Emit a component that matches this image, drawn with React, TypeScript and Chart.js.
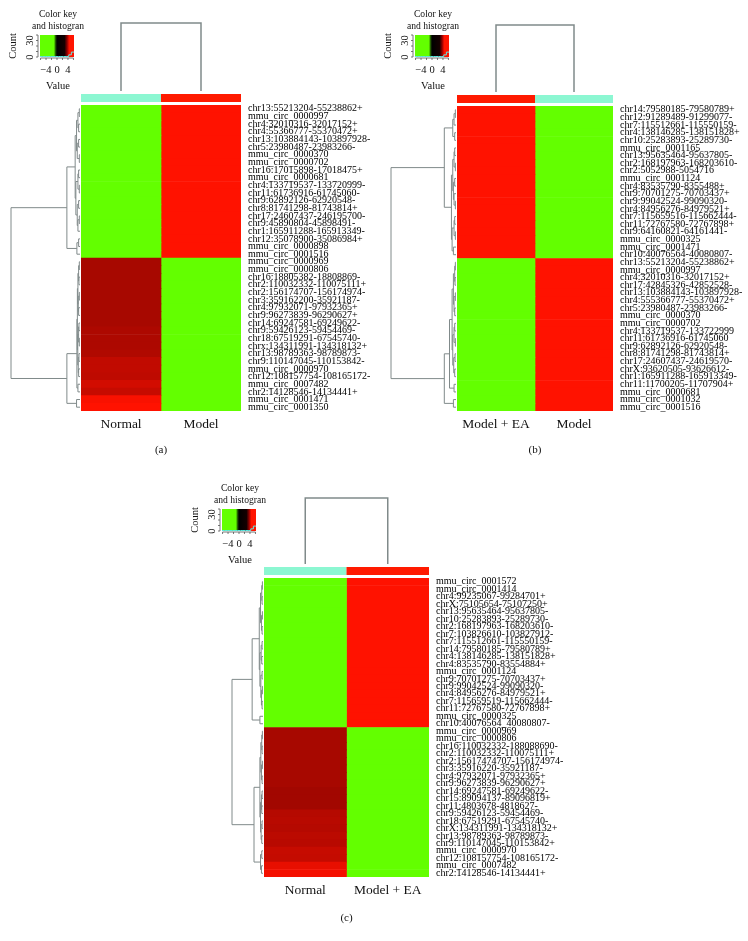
import React, { useEffect, useRef } from "react";
import { Chart, registerables } from "chart.js";
Chart.register(...registerables);

const FONT = "'Liberation Serif', 'Times New Roman', serif";
const CYAN = "#8cf7d2";
const RED = "#ff1a00";
const LINE = "rgb(128,138,138)";

// ---------- panel (a) ----------
const colNamesA = ["Normal", "Model"];
const colGroupA = [CYAN, RED];
const rowLabelsA = [
  "chr13:55213204-55238862+", "mmu_circ_0000997", "chr4:32010316-32017152+", "chr4:55366777-55370472+",
  "chr13:103884143-103897928-", "chr5:23980487-23983266-", "mmu_circ_0000370", "mmu_circ_0000702",
  "chr16:17015898-17018475+", "mmu_circ_0000681", "chr4:133719537-133720999-", "chr11:61736916-61745060-",
  "chr9:62892126-62920548-", "chr8:81741298-81743814+", "chr17:24607437-246195700-", "chr9:45890804-45898491-",
  "chr1:165911288-165913349-", "chr12:35078900-35086984+", "mmu_circ_0000898", "mmu_circ_0001516",
  "mmu_circ_0000969", "mmu_circ_0000806", "chr16:18805382-18808869-", "chr2:110032332-110075111+",
  "chr2:156174707-156174974-", "chr3:359162200-35921187-", "chr4:97932071-97932365+", "chr9:96273839-96290627+",
  "chr14:69247581-69249622-", "chr9:59426123-59454469-", "chr18:67519291-67545740-", "chrx:134311991-134318132+",
  "chr13:98789363-98789873-", "chr9:110147045-110153842-", "mmu_circ_0000970", "chr12:108157754-108165172-",
  "mmu_circ_0007482", "chr2:14128546-14134441+", "mmu_circ_0001471", "mmu_circ_0001350",
];
const normalA = [
  -5, -5, -5, -5, -5, -5, -5, -5, -5, -5, -5, -5, -5, -5, -5, -5, -5, -5, -5, -5,
  3.95, 3.95, 3.95, 3.95, 3.95, 3.95, 3.95, 3.95, 3.95, 4.05, 4.05, 4.05, 4.1, 4.4, 4.4, 4.35, 4.7, 4.5, 5.4, 5.5,
];
const modelA = [
  5.5, 5.5, 5.5, 5.5, 5.5, 5.5, 5.5, 5.5, 5.5, 5.5, 5.5, 5.5, 5.5, 5.5, 5.5, 5.5, 5.5, 5.5, 5.5, 5.5,
  -5, -5, -5, -5, -5, -5, -5, -5, -5, -5, -5, -5, -5, -5, -5, -5, -5, -5, -5, -5,
];
const treeA = [1,
  [0.19,
    [0.07,
      [0.05, [0.03, [0.01, 0, 1], [0.02, 2, 3]], [0.04, [0.02, 4, 5], [0.01, 6, 7]]],
      [0.06, [0.03, [0.02, 8, 9], [0.01, 10, 11]], [0.04, [0.02, 12, 13], [0.03, [0.01, 14, 15], 16]]]],
    [0.045, [0.02, 17, 18], 19]],
  [0.19,
    [0.045,
      [0.038,
        [0.03, [0.02, [0.01, 20, 21], [0.015, 22, 23]], [0.025, [0.01, 24, 25], [0.02, 26, 27]]],
        [0.032, [0.02, [0.015, 28, 29], [0.01, 30, 31]], [0.025, [0.015, 32, 33], [0.02, 34, 35]]]],
      [0.03, 36, 37]],
    [0.05, 38, 39]]];

// ---------- panel (b) ----------
const colNamesB = ["Model + EA", "Model"];
const colGroupB = [RED, CYAN];
const rowLabelsB = [
  "chr14:79580185-79580789+", "chr12:91289489-91299077-", "chr7:115512661-115550159-", "chr4:138146285-138151828+",
  "chr10:25283893-25289730-", "mmu_circ_0001165", "chr13:95635464-95637805-", "chr2:168197963-168203610-",
  "chr2:5052988-5054716", "mmu_circ_0001124", "chr4:83535790-8355488+", "chr9:70701275-70703437+",
  "chr9:99042524-99090320-", "chr4:84956276-84979521+", "chr7:115659516-115662444-", "chr11:72767580-72767898+",
  "chr9:64160821-64161441-", "mmu_circ_0000325", "mmu_circ_0001471", "chr10:40076564-40080807-",
  "chr13:55213204-55238862+", "mmu_circ_0000997", "chr4:32010316-32017152+", "chr17:42845326-42852528-",
  "chr13:103884143-103897928-", "chr4:555366777-55370472+", "chr5:23980487-23983266-", "mmu_circ_0000370",
  "mmu_circ_0000702", "chr4:133719537-133722999", "chr11:61736916-61745060", "chr9:62892126-62920548-",
  "chr8:81741298-81743814+", "chr17:24607437-24619570-", "chrX:93620505-93626612-", "chr1:165911288-165913349-",
  "chr11:11700205-11707904+", "mmu_circ_0000681", "mmu_circ_0001032", "mmu_circ_0001516",
];
const modelEaB = [
  5.5, 5.5, 5.5, 5.5, 5.5, 5.5, 5.5, 5.5, 5.5, 5.5, 5.5, 5.5, 5.5, 5.5, 5.5, 5.5, 5.5, 5.5, 5.5, 5.5,
  -5, -5, -5, -5, -5, -5, -5, -5, -5, -5, -5, -5, -5, -5, -5, -5, -5, -5, -5, -5,
];
const modelB = [
  -5, -5, -5, -5, -5, -5, -5, -5, -5, -5, -5, -5, -5, -5, -5, -5, -5, -5, -5, -5,
  5.5, 5.5, 5.5, 5.5, 5.5, 5.5, 5.5, 5.5, 5.5, 5.5, 5.5, 5.5, 5.5, 5.5, 5.5, 5.5, 5.5, 5.5, 5.5, 5.5,
];
const treeB = [1,
  [0.18,
    [0.05, [0.03, [0.01, 0, 1], 2], [0.02, 3, 4]],
    [0.07,
      [0.05, [0.03, [0.02, 5, 6], [0.01, 7, 8]], [0.04, [0.02, 9, 10], [0.03, 11, [0.01, 12, 13]]]],
      [0.06, [0.03, [0.02, 14, 15], [0.01, 16, 17]], [0.04, 18, 19]]]],
  [0.18,
    [0.1,
      [0.06,
        [0.04, [0.02, [0.01, 20, 21], [0.015, 22, 23]], [0.03, [0.01, 24, 25], [0.02, 26, 27]]],
        [0.05, [0.03, [0.02, 28, 29], [0.01, 30, 31]], [0.035, [0.015, 32, 33], [0.02, 34, 35]]]],
      [0.03, 36, 37]],
    [0.04, 38, 39]]];

// ---------- panel (c) ----------
const colNamesC = ["Normal", "Model + EA"];
const colGroupC = [CYAN, RED];
const rowLabelsC = [
  "mmu_circ_0001572", "mmu_circ_0001414", "chr4:99235067-99284701+", "chrX:75105654-75107250+",
  "chr13:95635464-95637805-", "chr10:25283893-25289730-", "chr2:168197963-168203610-", "chr7:103826610-103827912-",
  "chr7:115512661-115550159-", "chr14:79580185-79580789+", "chr4:138146285-138151828+", "chr4:83535790-83554884+",
  "mmu_circ_0001124", "chr9:70701275-70703437+", "chr9:99042524-99090320-", "chr4:84956276-84979521+",
  "chr7:115659519-115662444-", "chr11:72767580-72767898+", "mmu_circ_0000325", "chr10:40076564_40080807-",
  "mmu_circ_0000969", "mmu_circ_0000806", "chr16:110032332-188088690-", "chr2:110032332-110075111+",
  "chr2:15617474707-156174974-", "chr3:35916220-35921187-", "chr4:97932071-97932365+", "chr9:96273839-96290627+",
  "chr14:69247581-69249622-", "chr15:89094137-89096819+", "chr11:4803678-4818627-", "chr9:59426123-59454469-",
  "chr18:67519291-67545740-", "chrX:134311991-134318132+", "chr13:98789363-98789873-", "chr9:110147045-110153842+",
  "mmu_circ_0000970", "chr12:108157754-108165172-", "mmu_circ_0007482", "chr2:14128546-14134441+",
];
const normalC = [
  -5, -5, -5, -5, -5, -5, -5, -5, -5, -5, -5, -5, -5, -5, -5, -5, -5, -5, -5, -5,
  3.95, 3.95, 3.95, 3.95, 3.95, 3.95, 3.95, 3.95, 3.85, 3.85, 3.85, 4.2, 4.25, 4.2, 4.3, 4.25, 4.5, 4.45, 5.1, 5.3,
];
const modelEaC = [
  5.5, 5.5, 5.5, 5.5, 5.5, 5.5, 5.5, 5.5, 5.5, 5.5, 5.5, 5.5, 5.5, 5.5, 5.5, 5.5, 5.5, 5.5, 5.5, 5.5,
  -5, -5, -5, -5, -5, -5, -5, -5, -5, -5, -5, -5, -5, -5, -5, -5, -5, -5, -5, -5,
];
const treeC = [1,
  [0.35,
    [0.12,
      [0.08, [0.04, [0.02, 0, 1], [0.03, 2, 3]], [0.05, [0.02, 4, 5], [0.03, 6, 7]]],
      [0.1, [0.06, [0.03, 8, 9], [0.04, 10, 11]], [0.07, [0.03, 12, 13], [0.05, [0.02, 14, 15], [0.03, 16, 17]]]]],
    [0.1, 18, 19]],
  [0.29,
    [0.1,
      [0.07, [0.04, [0.02, 20, 21], [0.03, 22, 23]], [0.05, [0.02, 24, 25], [0.03, 26, 27]]],
      [0.08, [0.05, [0.03, 28, 29], [0.04, 30, 31]], [0.06, [0.03, 32, 33], [0.04, 34, 35]]]],
    [0.08, [0.04, 36, 37], [0.05, 38, 39]]]];

// ---------- colour key ----------
const keyTicks = [-4, 0, 4];
const keyCountTicks = [0, 30];
const keyHistCounts = [0, 0, 0, 0, 0, 0, 0, 0, 0, 0, 0, 3, 8];

function heatColor(v: number): string {
  if (v <= -1) return "rgb(99,255,0)";
  if (v < 1) {
    const t = (v + 1) / 2;
    return `rgb(${Math.round(99 * (1 - t))},${Math.round(255 * (1 - t))},0)`;
  }
  const t = Math.min(1, (v - 1) / 4.5);
  return `rgb(${Math.round(255 * t)},${Math.round(18 * t * t)},0)`;
}

type Tree = any;

function drawTree(ctx: CanvasRenderingContext2D, node: Tree, yOf: (i: number) => number, left: number, depth: number): { x: number; y: number } {
  if (typeof node === "number") return { x: left, y: yOf(node) };
  const [h, a, b] = node;
  const A = drawTree(ctx, a, yOf, left, depth);
  const B = drawTree(ctx, b, yOf, left, depth);
  const x = left - h * depth;
  ctx.beginPath();
  ctx.moveTo(A.x, A.y);
  ctx.lineTo(x, A.y);
  ctx.lineTo(x, B.y);
  ctx.lineTo(B.x, B.y);
  ctx.stroke();
  return { x, y: (A.y + B.y) / 2 };
}

function drawKey(ctx: CanvasRenderingContext2D, cx: number, ty: number) {
  ctx.save();
  ctx.fillStyle = "#111";
  ctx.textAlign = "center";
  ctx.textBaseline = "middle";
  ctx.font = `9.6px ${FONT}`;
  ctx.fillText("Color key", cx, ty);
  ctx.fillText("and histogran", cx, ty + 12);
  const bx = cx - 18, bw = 34, by = ty + 21, bh = 22;
  const g = ctx.createLinearGradient(bx, 0, bx + bw, 0);
  g.addColorStop(0, "rgb(99,255,0)");
  g.addColorStop(0.41, "rgb(99,255,0)");
  g.addColorStop(0.46, "rgb(30,80,0)");
  g.addColorStop(0.5, "rgb(0,0,0)");
  g.addColorStop(0.72, "rgb(20,0,0)");
  g.addColorStop(0.8, "rgb(150,0,0)");
  g.addColorStop(0.86, "rgb(255,20,0)");
  g.addColorStop(1, "rgb(255,20,0)");
  ctx.fillStyle = g;
  ctx.fillRect(bx, by, bw, bh);
  const vx = (v: number) => bx + ((v + 6.2) / 12.4) * bw;
  const cy = (c: number) => by + bh - (c / 40) * bh;
  // histogram
  ctx.strokeStyle = "#5fe8e0";
  ctx.lineWidth = 1;
  ctx.beginPath();
  keyHistCounts.forEach((c, i) => {
    const x0 = bx + (i / keyHistCounts.length) * bw;
    const x1 = bx + ((i + 1) / keyHistCounts.length) * bw;
    if (i === 0) ctx.moveTo(x0, cy(c) - 0.5);
    else ctx.lineTo(x0, cy(c) - 0.5);
    ctx.lineTo(x1, cy(c) - 0.5);
  });
  ctx.stroke();
  // axes
  ctx.strokeStyle = "#555";
  ctx.lineWidth = 0.8;
  ctx.beginPath();
  ctx.moveTo(bx - 2, cy(40));
  ctx.lineTo(bx - 2, by + bh);
  [0, 10, 20, 30, 40].forEach((c) => {
    ctx.moveTo(bx - 4, cy(c));
    ctx.lineTo(bx - 2, cy(c));
  });
  ctx.moveTo(vx(-6), by + bh + 1);
  ctx.lineTo(vx(6), by + bh + 1);
  [-6, -4, -2, 0, 2, 4, 6].forEach((v) => {
    ctx.moveTo(vx(v), by + bh + 1);
    ctx.lineTo(vx(v), by + bh + 3);
  });
  ctx.stroke();
  ctx.fillStyle = "#111";
  ctx.font = `10.5px ${FONT}`;
  keyTicks.forEach((v) => ctx.fillText(String(v).replace("-", "\u2212"), vx(v), ty + 56));
  ctx.fillText("Value", cx, ty + 72);
  keyCountTicks.forEach((c) => {
    ctx.save();
    ctx.translate(bx - 10, cy(c));
    ctx.rotate(-Math.PI / 2);
    ctx.fillText(String(c), 0, 0);
    ctx.restore();
  });
  ctx.save();
  ctx.translate(cx - 45, ty + 32);
  ctx.rotate(-Math.PI / 2);
  ctx.fillText("Count", 0, 0);
  ctx.restore();
  ctx.restore();
}

type PanelProps = {
  left: number; top: number; w: number; h: number;
  area: { l: number; t: number; r: number; b: number };
  rowLabels: string[]; cols: string[]; values: number[][]; groups: string[];
  tree: Tree; depth: number; keyPos: { cx: number; ty: number };
  caption: string; captionY: number; colTop: number;
};

function Panel(p: PanelProps) {
  const ref = useRef<HTMLCanvasElement | null>(null);
  useEffect(() => {
    const canvas = ref.current!;
    const decor = {
      id: "decor",
      afterDraw(chart: any) {
        const ctx: CanvasRenderingContext2D = chart.ctx;
        const xs = chart.scales.x;
        const ys = chart.scales.y;
        const ca = chart.chartArea;
        ctx.save();
        // column colour bar
        p.groups.forEach((c, i) => {
          const x0 = xs.getPixelForValue(i);
          const x1 = xs.getPixelForValue(i + 1);
          ctx.fillStyle = c;
          ctx.fillRect(x0, ca.top - 11, x1 - x0, 8);
        });
        // column dendrogram
        ctx.strokeStyle = LINE;
        ctx.lineWidth = 1.5;
        const c0 = xs.getPixelForValue(0.5);
        const c1 = xs.getPixelForValue(1.5);
        ctx.beginPath();
        ctx.moveTo(c0, ca.top - 14);
        ctx.lineTo(c0, p.colTop);
        ctx.lineTo(c1, p.colTop);
        ctx.lineTo(c1, ca.top - 14);
        ctx.stroke();
        // row dendrogram
        ctx.lineWidth = 1;
        drawTree(ctx, p.tree, (i) => ys.getPixelForValue(i), ca.left - 1, p.depth);
        ctx.restore();
        drawKey(ctx, p.keyPos.cx, p.keyPos.ty);
        ctx.save();
        ctx.fillStyle = "#111";
        ctx.font = `11px ${FONT}`;
        ctx.textAlign = "center";
        ctx.textBaseline = "middle";
        ctx.fillText(p.caption, (ca.left + ca.right) / 2, p.captionY);
        ctx.restore();
      },
    };
    const chart = new Chart(canvas, {
      type: "bar",
      data: {
        labels: p.rowLabels,
        datasets: p.values.map((vals, c) => ({
          data: vals.map(() => [c, c + 1]),
          backgroundColor: vals.map(heatColor),
          borderWidth: 0,
          barPercentage: 1,
          categoryPercentage: 1,
          grouped: false,
        })),
      } as any,
      options: {
        indexAxis: "y",
        responsive: false,
        animation: false,
        events: [],
        layout: { padding: { left: p.area.l, top: p.area.t, right: 0, bottom: 0 } },
        plugins: { legend: { display: false }, tooltip: { enabled: false }, title: { display: false } },
        scales: {
          x: {
            type: "linear", min: 0, max: 2, position: "bottom",
            grid: { display: false, drawTicks: false }, border: { display: false },
            afterBuildTicks: (s: any) => { s.ticks = p.cols.map((_, i) => ({ value: i + 0.5 })); },
            afterFit: (s: any) => { s.height = p.h - p.area.b; },
            ticks: {
              callback: (_v: any, i: number) => p.cols[i],
              font: { family: FONT, size: 13.5 }, color: "#111", padding: 5, maxRotation: 0, autoSkip: false,
            },
          },
          y: {
            type: "category", position: "right", offset: true,
            grid: { display: false, drawTicks: false }, border: { display: false },
            afterFit: (s: any) => { s.width = p.w - p.area.r; },
            ticks: { autoSkip: false, font: { family: FONT, size: 10 }, color: "#000", padding: 7 },
          },
        },
      } as any,
      plugins: [decor],
    });
    return () => chart.destroy();
  }, []);
  return (
    <canvas
      ref={ref}
      width={p.w}
      height={p.h}
      style={{ position: "absolute", left: p.left, top: p.top, width: p.w, height: p.h }}
    />
  );
}

export default function App() {
  return (
    <div style={{ position: "fixed", left: 0, top: 0, width: 748, height: 941, background: "#fff", overflow: "hidden" }}>
      <Panel left={0} top={0} w={374} h={470} area={{ l: 81, t: 105, r: 241, b: 411 }}
        rowLabels={rowLabelsA} cols={colNamesA} values={[normalA, modelA]} groups={colGroupA}
        tree={treeA} depth={69} keyPos={{ cx: 58, ty: 14 }} caption="(a)" captionY={450} colTop={23} />
      <Panel left={374} top={0} w={374} h={470} area={{ l: 83, t: 106, r: 239, b: 411 }}
        rowLabels={rowLabelsB} cols={colNamesB} values={[modelEaB, modelB]} groups={colGroupB}
        tree={treeB} depth={65} keyPos={{ cx: 59, ty: 14 }} caption="(b)" captionY={450} colTop={25} />
      <Panel left={180} top={470} w={400} h={471} area={{ l: 84, t: 108, r: 249, b: 407 }}
        rowLabels={rowLabelsC} cols={colNamesC} values={[normalC, modelEaC]} groups={colGroupC}
        tree={treeC} depth={31} keyPos={{ cx: 60, ty: 18 }} caption="(c)" captionY={448} colTop={28} />
    </div>
  );
}
